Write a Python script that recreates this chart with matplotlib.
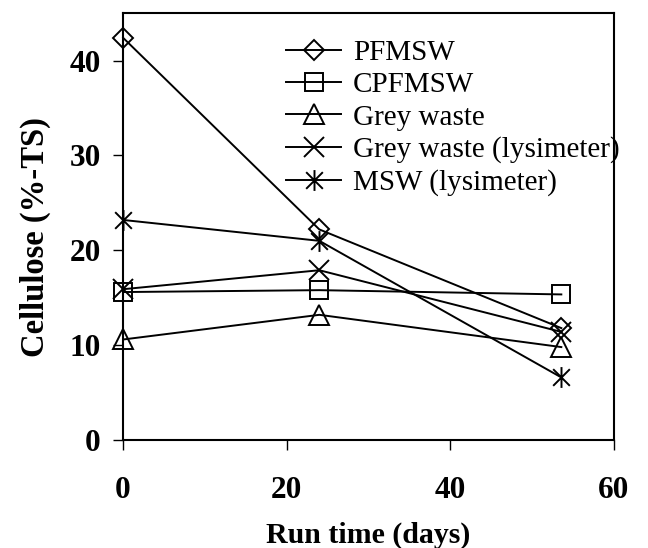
import numpy as np
import matplotlib
matplotlib.use("Agg")
import matplotlib.pyplot as plt
from matplotlib.path import Path

plt.rcParams["font.family"] = ["Liberation Serif", "DejaVu Serif"]

# run time of the three sampling points (days)
run_days = [0, 24, 53.6]

# cellulose content (%-TS) per waste type
pfmsw = [42.4, 22.2, 11.8]
cpfmsw = [15.6, 15.8, 15.35]
grey_waste = [10.6, 13.2, 9.8]
grey_lysimeter = [15.9, 17.9, 11.4]
msw_lysimeter = [23.2, 21.0, 6.6]

series_names = ["PFMSW", "CPFMSW", "Grey waste",
                "Grey waste (lysimeter)", "MSW (lysimeter)"]

# x plus a vertical bar, like a spreadsheet "star" marker
star_path = Path(
    [(-1, -1), (1, 1), (-1, 1), (1, -1), (0, -1.25), (0, 1.25)],
    [Path.MOVETO, Path.LINETO, Path.MOVETO, Path.LINETO, Path.MOVETO, Path.LINETO],
)

styles = [
    dict(marker="D", ms=10),
    dict(marker="s", ms=12.5),
    dict(marker="^", ms=15),
    dict(marker="x", ms=14),
    dict(marker=star_path, ms=15),
]

fig = plt.figure(figsize=(6.48, 5.48), dpi=100)
ax = fig.add_axes([0.19, 0.197, 0.757, 0.779])

for vals, name, st in zip([pfmsw, cpfmsw, grey_waste, grey_lysimeter, msw_lysimeter],
                          series_names, styles):
    ax.plot(run_days, vals, color="black", lw=1.4, label=name,
            marker=st["marker"], markersize=st["ms"],
            markerfacecolor="none", markeredgecolor="black", markeredgewidth=1.4,
            clip_on=False)

ax.set_xlim(0, 60)
ax.set_ylim(0, 45)
ax.set_xticks([0, 20, 40, 60])
ax.set_yticks([0, 10, 20, 30, 40])

for sp in ax.spines.values():
    sp.set_linewidth(1.5)
    sp.set_color("black")

ax.tick_params(axis="x", direction="out", length=7, width=1, pad=19, labelsize=22.5)
ax.tick_params(axis="y", direction="out", length=7, width=1, pad=9, labelsize=22.5)
for lab in ax.get_xticklabels() + ax.get_yticklabels():
    lab.set_fontweight("bold")

ax.set_xlabel("Run time (days)", fontsize=21.5, fontweight="bold", labelpad=12)
ax.set_ylabel("Cellulose (%-TS)", fontsize=23.5, fontweight="bold")
ax.yaxis.set_label_coords(-0.148, 0.475)

ax.legend(loc="upper left", bbox_to_anchor=(0.308, 0.965), frameon=False,
          fontsize=21, handlelength=1.9, handletextpad=0.4,
          labelspacing=0.2, borderaxespad=0)

fig.savefig("out.png", dpi=100)
